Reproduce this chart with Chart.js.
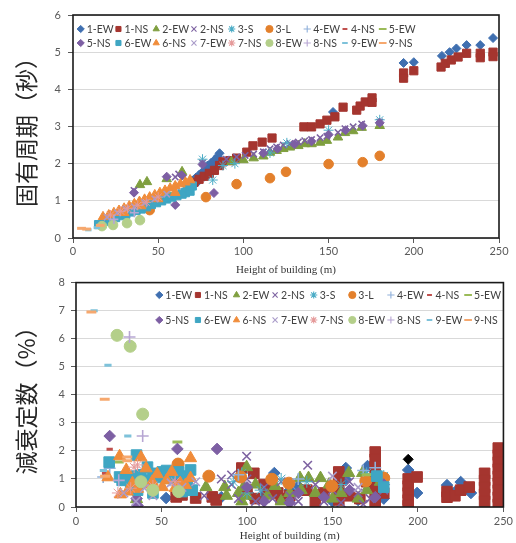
<!DOCTYPE html>
<html>
<head>
<meta charset="utf-8">
<script src="https://cdn.jsdelivr.net/npm/chart.js@4.4.1/dist/chart.umd.min.js"></script>
<style>
  body { margin: 0; background: #fff; }
  #wrap { position: relative; width: 516px; height: 543px; }
  canvas { position: absolute; left: 0; }
  #topChart { top: 0; }
  #botChart { top: 270px; }
</style>
</head>
<body>
<div id="wrap">
  <canvas id="topChart" width="516" height="278"></canvas>
  <canvas id="botChart" width="516" height="273"></canvas>
</div>
<script>
// series names (legend order)
const seriesNames = ['1-EW', '1-NS', '2-EW', '2-NS', '3-S', '3-L', '4-EW', '4-NS', '5-EW',
                     '5-NS', '6-EW', '6-NS', '7-EW', '7-NS', '8-EW', '8-NS', '9-EW', '9-NS'];
const xTicks = [0, 50, 100, 150, 200, 250];

// natural period (s) vs height (m)
const T_1EW = [[70,1.55],[72,1.62],[73,1.5],[74,1.7],[76,1.78],[77,1.65],[78,1.85],[79,1.95],[80,1.72],[81,2.02],[82,1.9],[83,2.1],[84,2.0],[85,2.2],[86,2.28],[152.6,3.39],[194,4.71],[200,4.73],[216.5,4.9],[221,5.0],[225,5.1],[231,5.19],[239,5.19],[246.5,5.38]];
const T_1NS = [[71,1.5],[74,1.58],[77,1.66],[80,1.74],[83,1.82],[86,1.95],[88,2.05],[92,2.08],[96,2.15],[102,2.31],[105.6,2.48],[111,2.58],[116.8,2.69],[135.5,2.99],[140,2.99],[145,3.07],[149,3.17],[153.7,3.26],[158.5,3.52],[166.5,3.44],[168.5,3.55],[171.5,3.66],[175.5,3.77],[175.5,3.65],[194,4.44],[194,4.3],[200,4.5],[216,4.6],[218.5,4.7],[222,4.79],[226,4.87],[231,4.97],[239,4.97],[239,4.85],[246.5,5.0],[246.5,4.88]];
const T_2EW = [[39.3,1.43],[43.4,1.51],[55,1.59],[64,1.78],[93,2.05],[100,2.1],[106,2.15],[111.7,2.2],[115.6,2.3],[119.5,2.35],[123.4,2.4],[127.3,2.44],[132.2,2.48],[136,2.53],[140,2.53],[145,2.57],[149,2.62],[155.5,2.71],[159.6,2.83],[164.4,2.88],[169.4,2.97],[180,3.02]];
const T_2NS = [[35.8,1.28],[60,1.64],[62,1.72],[76,2.02],[90,2.12],[96,2.18],[101,2.22],[106,2.26],[111.7,2.32],[115.6,2.4],[119.5,2.45],[123.4,2.5],[127.3,2.54],[132.2,2.58],[136,2.62],[140,2.65],[145,2.7],[149,2.74],[155.5,2.84],[159.6,2.94],[164.4,2.99],[169.4,3.07],[180,3.12]];
const T_3S  = [[66,1.5],[76,2.12],[82,1.56],[88,1.95],[95,2.0],[115.6,2.29],[125.5,2.56],[150,2.9],[180,3.18]];
const T_3L  = [[45,0.75],[78,1.1],[96,1.45],[115.6,1.61],[125,1.78],[150,1.99],[170,2.04],[180,2.21]];
const T_4EW = [[18,0.48],[26,0.62],[34,0.78],[42,0.92],[52,1.12],[62,1.32],[70,1.48]];
const T_4NS = [[14,0.36],[24,0.55],[33,0.72],[48,1.02]];
const T_5EW = [[20,0.47],[38,0.82],[56,1.2],[66,1.42]];
const T_5NS = [[35.8,1.22],[55,1.65],[60,0.89],[64,1.68],[76,1.98],[82.7,1.21],[111.7,2.28],[120,2.4],[130,2.52],[140,2.6],[150,2.78],[160,2.9],[170,3.02],[180,3.1]];
const T_6EW = [[15,0.36],[18.8,0.45],[22,0.5],[25,0.55],[28,0.6],[31,0.64],[34,0.7],[37,0.74],[40,0.78],[43,0.84],[46,0.9],[49,0.95],[52,1.0],[55,1.05],[58,1.1],[61,1.14],[64,1.18],[66,1.22],[67,1.35],[68.7,1.26],[70,1.4]];
const T_6NS = [[17.6,0.57],[21,0.62],[24,0.68],[27,0.74],[30,0.8],[30,0.68],[33,0.86],[36,0.92],[39,0.98],[40,0.86],[42,1.04],[45,1.1],[48,1.16],[50,1.05],[51,1.22],[54,1.28],[57,1.34],[60,1.4],[60,1.22],[63,1.45],[66,1.5],[68.7,1.56]];
const T_7EW = [[20,0.56],[26,0.68],[31,0.78],[36,0.84],[42,0.95],[48,1.05],[55,1.18]];
const T_7NS = [[22,0.62],[28,0.72],[32,0.8],[38,0.88],[43,0.96],[50,1.1]];
const T_8EW = [[17,0.32],[23.5,0.35],[31.7,0.4],[39.3,0.48]];
const T_8NS = [[24,0.5],[36,0.68]];
const T_9EW = [[9,0.22],[14,0.28]];
const T_9NS = [[5,0.26],[8,0.24],[16,0.34]];

// damping ratio (%) vs height (m)
const D_1EW = [[52.7,0.32],[85,0.35],[97,0.5],[103,0.35],[110,0.45],[116,1.21],[125,0.6],[130,0.75],[140,0.4],[150,0.2],[157.8,1.39],[157.8,0.99],[165,0.25],[170.5,1.46],[175,0.55],[180,0.3],[194.3,1.32],[199.5,0.5],[217,0.78],[221.6,0.53],[225,0.89],[231,0.5]];
const D_1NS = [[58.6,0.36],[62,0.43],[70,0.32],[79.7,0.36],[82,0.25],[97,1.39],[100,0.6],[104,1.2],[105,0.3],[110,0.8],[112.5,0.6],[118,0.5],[120,0.3],[125,0.4],[135,0.6],[140,0.2],[145,0.5],
  [153.7,1.25],[153.7,1.0],[153.7,0.75],[153.7,0.5],[153.7,0.25],[160,0.4],[166,0.3],[170,0.9],
  [175,1.96],[175,1.7],[175,1.45],[175,1.2],[175,0.95],[175,0.7],[175,0.45],[175,0.2],[180,0.5],
  [194.3,1.0],[194.3,0.75],[194.3,0.5],[194.3,0.25],[194.3,0.05],[199.5,1.07],
  [217,0.55],[217,0.35],[221.6,0.4],[225,0.6],[230,0.71],
  [239,1.2],[239,0.95],[239,0.7],[239,0.45],[239,0.2],
  [247,2.1],[247,1.85],[247,1.6],[247,1.35],[247,1.1],[247,0.85],[247,0.6],[247,0.35],[247,0.1]];
const D_2EW = [[35.4,0.28],[45,0.75],[54.5,0.96],[60,0.7],[76,0.71],[87,0.71],[88,0.4],[95,0.5],[97,0.2],[98,0.71],[99.8,1.42],[100,0.4],[105,0.8],[112,0.4],[116.5,0.75],[120,0.2],[125,0.5],[131,1.03],[131.7,0.6],[136,1.03],[140,0.5],[143,1.03],[148,0.8],[150,0.3],[155,0.5],[159.5,1.21],[165,0.3],[167.6,1.21],[170,0.6],[178,0.9]];
const D_2NS = [[75,0.4],[85,1.0],[91,1.14],[91,0.8],[95,0.3],[99.8,1.81],[100,1.0],[105,0.2],[110,0.7],[115,0.3],[120,0.9],[125,0.4],[130,0.2],[135.5,1.49],[140,0.8],[145,0.2],[150,0.6],[155,0.15],[160,0.9],[165,0.5],[168,0.1],[172,0.3],[180,0.6]];
const D_3S  = [[92,0.9],[97,1.2],[100,0.5],[108,0.6],[120,1.0],[135,0.9],[155,0.8],[170,1.2],[180,1.1]];
const D_3L  = [[59.7,1.53],[77.7,1.1],[96.3,1.07],[114.5,0.99],[124.5,0.85],[149.6,0.75],[169.5,0.93],[180,1.03]];
const D_4EW = [[15.9,1.07],[19.7,1.38],[30,1.2],[45,1.1],[55,0.95],[95,1.15],[130,1.0],[168,1.3],[175,1.4]];
const D_4NS = [[17,1.2],[19.7,2.06],[30,1.0],[60,0.9]];
const D_5EW = [[25,1.6],[40,0.9],[59.3,2.32],[170,1.15]];
const D_5NS = [[19.7,2.53],[35.5,0.3],[36,0.05],[59.3,2.07],[60,0.95],[82.5,2.07],[100,0.7],[110,0.2],[125,0.15],[130,0.5],[145,0.35],[160,0.6],[175,0.35],[180,0.8]];
const D_6EW = [[19.4,1.6],[25.5,1.07],[27,0.95],[30,1.0],[32,0.75],[35,1.1],[35.4,1.85],[36,0.6],[38,1.15],[40,0.95],[41.8,1.42],[45,1.2],[45,0.5],[48,1.05],[50.5,1.25],[53,1.3],[55,1.15],[57.4,1.2],[60,1.25],[62,0.55],[63,1.1],[65,0.9],[67,1.32],[68,0.6],[176,1.1],[180,0.71]];
const D_6NS = [[18.7,1.06],[25.5,1.81],[26,0.45],[29.4,1.32],[30,0.55],[33,0.85],[36,0.65],[38,1.77],[40,0.8],[41,1.38],[44.6,0.9],[47.5,1.17],[50.5,0.71],[53,0.95],[56,1.25],[58,0.68],[61,0.85],[64,0.78],[67,1.74],[67,1.03]];
const D_7EW = [[28,0.5],[35,0.2],[40,0.67],[45,0.4],[55.6,0.86],[62,0.7],[70,0.9],[150,1.1],[165,0.7]];
const D_7NS = [[24.5,0.5],[32,0.67],[34,1.42],[36,1.5],[45,0.75],[58,0.9]];
const D_8EW = [[24,6.12],[31.7,5.73],[38,0.9],[39,3.31],[45,0.6],[60,0.55]];
const D_8NS = [[25,0.95],[31.3,6.06],[39,2.53]];
const D_9EW = [[10.6,7.0],[16,1.3],[18.7,5.05],[30.3,2.53]];
const D_9NS = [[9,6.95],[16.8,3.84],[17,1.1],[30,1.78],[30,1.65]];
const D_extra = [[194.3,1.7]];

const periodSets = [T_1EW, T_1NS, T_2EW, T_2NS, T_3S, T_3L, T_4EW, T_4NS, T_5EW,
                    T_5NS, T_6EW, T_6NS, T_7EW, T_7NS, T_8EW, T_8NS, T_9EW, T_9NS];
const dampingSets = [D_1EW, D_1NS, D_2EW, D_2NS, D_3S, D_3L, D_4EW, D_4NS, D_5EW,
                     D_5NS, D_6EW, D_6NS, D_7EW, D_7NS, D_8EW, D_8NS, D_9EW, D_9NS];

// marker shape / colour / size factor per series
const markerStyle = [
  ['rectRot', '#3F6FB0', 1], ['rect', '#A5352F', 1], ['triangle', '#7F9F3F', 1],
  ['crossRot', '#7D62A1', 1], ['star', '#4BACC6', 1], ['circle', '#E3802C', 1],
  ['cross', '#8FB0DA', 1], ['line', '#C0504D', 0.7], ['line', '#9BBB59', 1.1],
  ['rectRot', '#7D5FA3', 1], ['rect', '#3FA6C3', 1], ['triangle', '#F08C3A', 1],
  ['crossRot', '#A99BC9', 1], ['star', '#E59A9A', 1], ['circle', '#B4CF8A', 1],
  ['cross', '#B7A6D3', 1], ['line', '#7EC2DA', 0.8], ['line', '#F6A86E', 1.1]
];
const topSize = { rectRot: 4.5, rect: 5.8, triangle: 5.5, crossRot: 4.5, star: 5, circle: 4.8, cross: 4.5, line: 4 };
const botSize = { rectRot: 5.8, rect: 7.5, triangle: 7, crossRot: 6, star: 6, circle: 6, cross: 6, line: 4.5 };

function lineW(shape) {
  if (shape === 'line') return 3;
  if (shape === 'crossRot' || shape === 'cross') return 1.6;
  return 1;
}

function buildDatasets(sets, sizes) {
  return sets.map((pts, i) => {
    const [shape, color, f] = markerStyle[i];
    return {
      label: seriesNames[i],
      data: pts.map(p => ({ x: p[0], y: p[1] })),
      pointStyle: shape,
      pointRadius: sizes[shape] * f,
      pointHoverRadius: sizes[shape] * f,
      backgroundColor: color,
      borderColor: color,
      pointBorderWidth: lineW(shape),
      order: 40 - i
    };
  });
}

function drawMarker(ctx, opt, x, y) {
  ctx.fillStyle = opt.backgroundColor;
  ctx.strokeStyle = opt.borderColor;
  ctx.lineWidth = opt.borderWidth;
  if (Chart.helpers && Chart.helpers.drawPoint) {
    Chart.helpers.drawPoint(ctx, opt, x, y);
  } else {
    new Chart.PointElement({ x, y, options: opt }).draw(ctx);
  }
}

// legend drawn inside the plot area
const insideLegend = {
  id: 'insideLegend',
  afterDraw(chart, args, o) {
    const ctx = chart.ctx;
    ctx.save();
    ctx.font = '10.5px Lato';
    ctx.textBaseline = 'middle';
    seriesNames.forEach((name, i) => {
      const col = i % 9, row = Math.floor(i / 9);
      const x = o.x + col * o.dx, y = o.y + row * o.dy;
      const [shape, color, f] = markerStyle[i];
      drawMarker(ctx, {
        pointStyle: shape, rotation: 0,
        radius: (shape === 'line' ? 3.5 * f : 3.6),
        borderWidth: shape === 'line' ? 2 : (shape === 'rect' || shape === 'rectRot' || shape === 'circle' || shape === 'triangle' ? 1 : 1.1),
        backgroundColor: color, borderColor: color
      }, x, y);
      ctx.fillStyle = '#404040';
      ctx.fillText(name, x + 6, y + 0.5);
    });
    ctx.restore();
  }
};

const plotFrame = {
  id: 'plotFrame',
  afterDraw(chart, args, o) {
    const a = chart.chartArea, ctx = chart.ctx;
    ctx.save();
    ctx.strokeStyle = o.color;
    ctx.lineWidth = o.width;
    ctx.strokeRect(a.left, a.top, a.right - a.left, a.bottom - a.top);
    ctx.restore();
  }
};

const tickFont = { family: 'Lato', size: 11 };

function makeChart(id, datasets, cfg) {
  return new Chart(document.getElementById(id), {
    type: 'scatter',
    data: { datasets },
    plugins: [insideLegend, plotFrame],
    options: {
      responsive: false,
      animation: false,
      devicePixelRatio: 1,
      layout: { padding: cfg.padding },
      plugins: {
        legend: { display: false },
        tooltip: { enabled: false },
        insideLegend: cfg.legend,
        plotFrame: { color: '#1a1a1a', width: 1.6 }
      },
      scales: {
        x: {
          type: 'linear', min: 0, max: 250,
          afterBuildTicks: s => { s.ticks = xTicks.map(v => ({ value: v })); },
          ticks: { font: tickFont, color: '#595959', padding: cfg.xPad, maxRotation: 0 },
          grid: { drawOnChartArea: false, tickLength: 5, tickColor: '#595959' },
          border: { display: false },
          title: {
            display: true, text: 'Height of building (m)', color: '#333',
            font: { family: 'Liberation Serif', size: 11 },
            padding: { top: 0, bottom: cfg.xTitlePad }
          },
          afterFit: s => { s.height = cfg.xHeight; }
        },
        y: {
          min: 0, max: cfg.yMax,
          ticks: { stepSize: 1, font: tickFont, color: '#595959', padding: cfg.yPad },
          grid: { color: '#D9D9D9', tickLength: 5, tickColor: '#595959' },
          border: { display: false },
          title: {
            display: true, text: cfg.yTitle, color: '#262626',
            font: { family: 'Noto Sans CJK JP', size: 23 },
            padding: { top: 10, bottom: 0 }
          },
          afterFit: s => { s.width = cfg.yWidth; }
        }
      }
    }
  });
}

makeChart('topChart', buildDatasets(periodSets, topSize), {
  padding: { left: 2, top: 15, right: 17, bottom: 0 },
  yMax: 6, yTitle: '固有周期（秒）', yWidth: 71, xHeight: 40,
  xPad: 2, yPad: 7, xTitlePad: 1,
  legend: { x: 80.7, y: 29, dx: 37.75, dy: 14 }
});

const botSets = buildDatasets(dampingSets, botSize);
botSets.push({
  label: '', data: D_extra.map(p => ({ x: p[0], y: p[1] })),
  pointStyle: 'rectRot', pointRadius: 5, backgroundColor: '#000', borderColor: '#000',
  pointBorderWidth: 1, order: 0
});
makeChart('botChart', botSets, {
  padding: { left: 2, top: 12, right: 9, bottom: 0 },
  yMax: 8, yTitle: '減衰定数（%）', yWidth: 74, xHeight: 36,
  xPad: 3, yPad: 6, xTitlePad: 0,
  legend: { x: 159.3, y: 25, dx: 38.6, dy: 25 }
});
</script>
</body>
</html>
